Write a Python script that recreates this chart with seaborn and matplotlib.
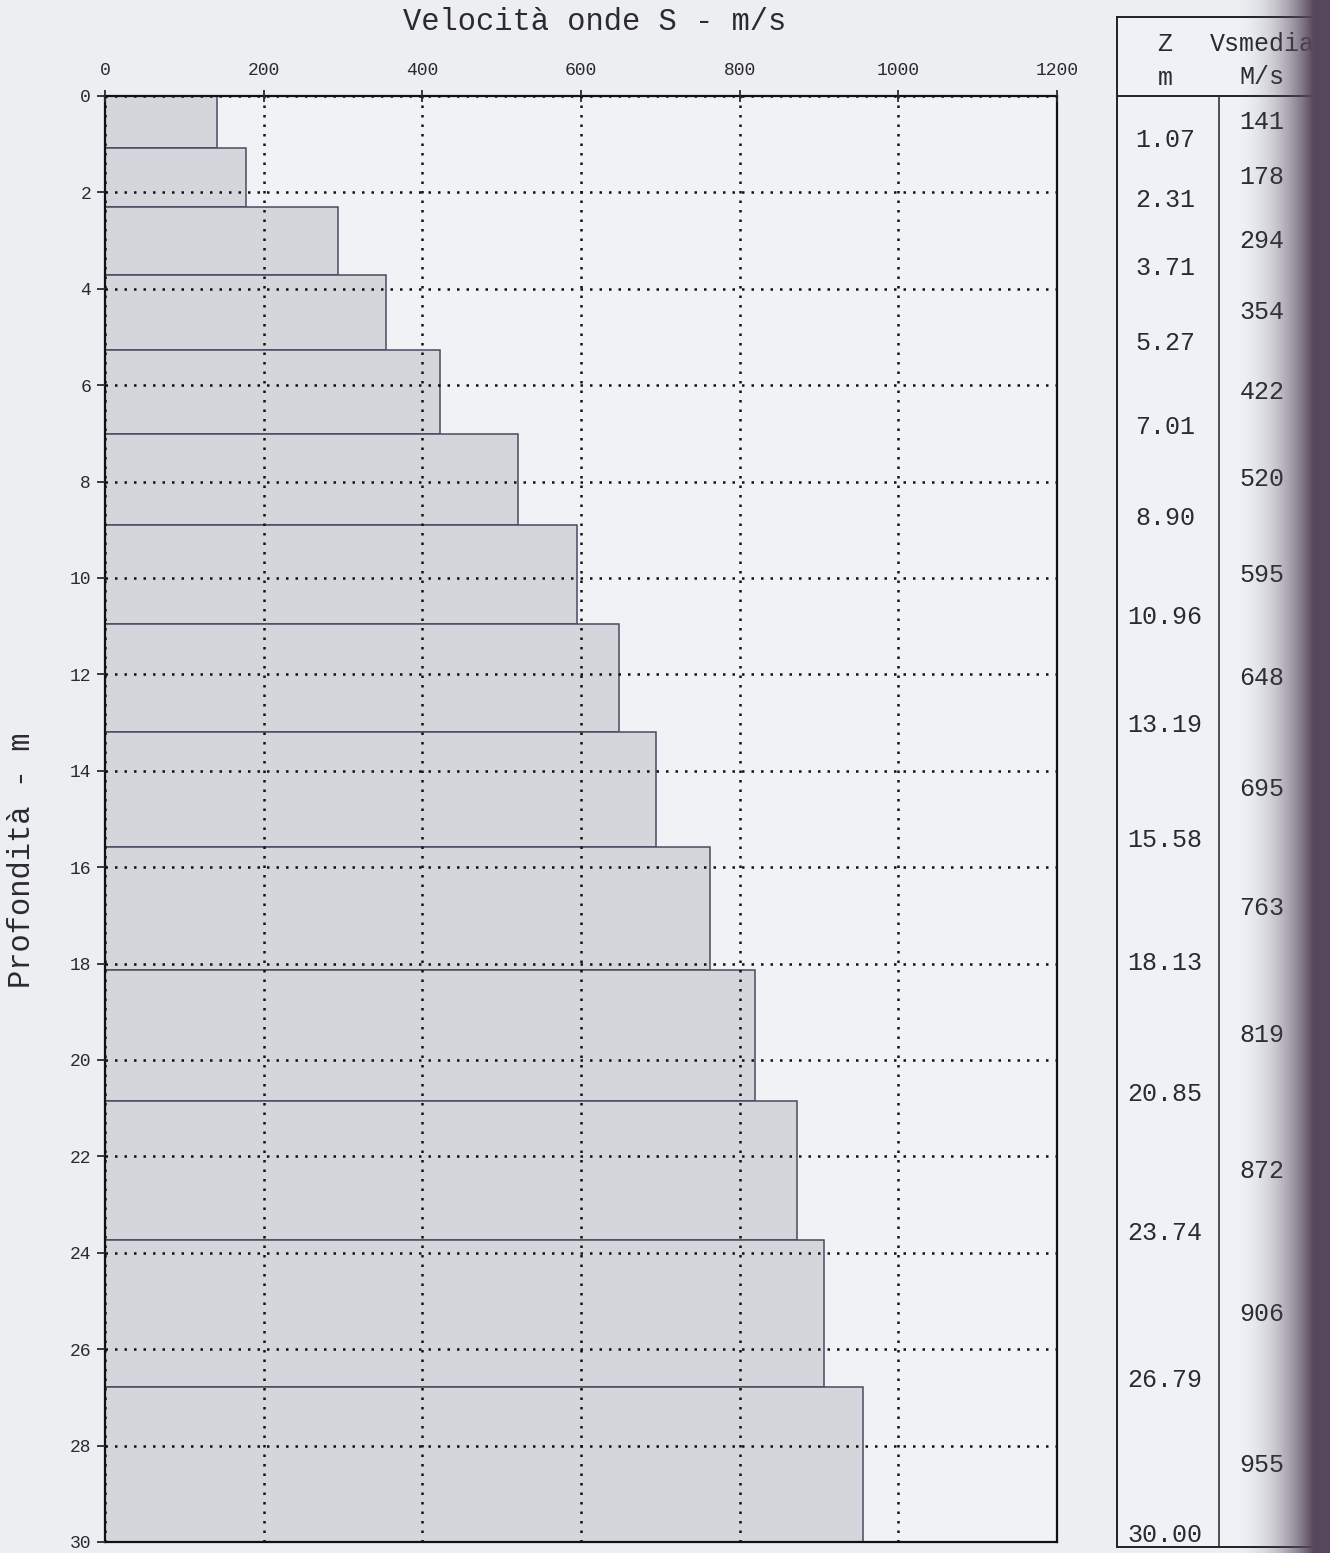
import matplotlib
matplotlib.use('Agg')
import numpy as np
import pandas as pd
import matplotlib.pyplot as plt
import seaborn as sns

# Layer boundaries (m) and average S-wave velocity of each layer (m/s)
z_bounds = [0.0, 1.07, 2.31, 3.71, 5.27, 7.01, 8.90, 10.96, 13.19, 15.58, 18.13, 20.85, 23.74, 26.79, 30.00]
vs_media = [141, 178, 294, 354, 422, 520, 595, 648, 695, 763, 819, 872, 906, 955]
z_labels = ['1.07', '2.31', '3.71', '5.27', '7.01', '8.90', '10.96', '13.19',
            '15.58', '18.13', '20.85', '23.74', '26.79', '30.00']
x_ticks = [0, 200, 400, 600, 800, 1000, 1200]
y_ticks = list(range(0, 31, 2))

sns.set_theme(style='white')
plt.rcParams['font.family'] = ['Liberation Mono', 'DejaVu Sans Mono']

W, H = 1330, 1553
paper = '#eceef2'
ink = '#2a2a30'

fig = plt.figure(figsize=(W / 100, H / 100), dpi=100, facecolor=paper)

# Main plot
ax = fig.add_axes([105 / W, 1 - 1542 / H, (1057 - 105) / W, (1542 - 96) / H])
ax.set_facecolor('#f1f2f5')

mid = [(a + b) / 2 for a, b in zip(z_bounds[:-1], z_bounds[1:])]
df = pd.DataFrame({'z': mid, 'vs': vs_media})
sns.histplot(data=df, y='z', weights='vs', bins=z_bounds, color='#d3d7db', alpha=1,
             edgecolor='#4a4a60', linewidth=1.1, ax=ax)

ax.set_xlim(0, 1200)
ax.set_ylim(30, 0)
ax.set_xticks(x_ticks)
ax.set_yticks(y_ticks)
ax.set_xlabel('')
ax.set_ylabel('')
ax.xaxis.tick_top()
ax.tick_params(axis='x', top=True, labeltop=True, bottom=False, labelbottom=False,
               direction='inout', length=9, width=1.3, pad=8, labelsize=13, colors=ink)
ax.tick_params(axis='y', left=True, direction='out', length=6, width=1.3, pad=4,
               labelsize=13, colors=ink)

ax.set_axisbelow(False)
ax.grid(True, color='#111111', linestyle=(0, (1, 2.8)), linewidth=1.8)
for s in ax.spines.values():
    s.set_color('#111111')
    s.set_linewidth(1.6)

fig.text(595 / W, 1 - 22 / H, 'Velocità onde S - m/s', ha='center', va='center',
         fontsize=22, color=ink)
fig.text(22 / W, 1 - 860 / H, 'Profondità - m', ha='center', va='center',
         rotation=90, fontsize=22, color=ink)

# Table on the right
tx = fig.add_axes([1117 / W, 1 - 1547 / H, (W - 1117) / W, (1547 - 17) / H])
tx.set_facecolor('#eef1f5')
tx.set_xlim(1117, W)
tx.set_ylim((1547 - 96) / 48.2, (17 - 96) / 48.2)
tx.set_xticks([])
tx.set_yticks([])
tx.spines['right'].set_visible(False)
for s in ['left', 'top', 'bottom']:
    tx.spines[s].set_color('#222222')
    tx.spines[s].set_linewidth(1.4)
tx.axhline(0, color='#222222', lw=1.4)
tx.plot([1219, 1219], [0, 31], color='#333333', lw=1.2)

tx.text(1165, -1.08, 'Z', ha='center', va='center', fontsize=18, color=ink)
tx.text(1165, -0.38, 'm', ha='center', va='center', fontsize=18, color=ink)
tx.text(1262, -1.08, 'Vsmedia', ha='center', va='center', fontsize=18, color=ink)
tx.text(1262, -0.40, 'M/s', ha='center', va='center', fontsize=18, color=ink)
for zb, lab in zip(z_bounds[1:], z_labels):
    tx.text(1165, zb - 0.15, lab, ha='center', va='center', fontsize=18, color=ink)
for zm, v in zip(mid, vs_media):
    tx.text(1262, zm, str(v), ha='center', va='center', fontsize=18, color=ink)

# Dark page-binding shadow at the right edge of the scan
sx = fig.add_axes([1232 / W, 0, (W - 1232) / W, 1])
sx.set_axis_off()
ramp = np.linspace(0, 1, 200) ** 2.2
rgba = np.zeros((1, 200, 4))
rgba[..., 0] = 0.34
rgba[..., 1] = 0.28
rgba[..., 2] = 0.36
rgba[..., 3] = np.clip(ramp * 1.5, 0, 1)
sx.imshow(rgba, aspect='auto', extent=[0, 1, 0, 1])

fig.savefig('out.png', dpi=100, facecolor=paper)
